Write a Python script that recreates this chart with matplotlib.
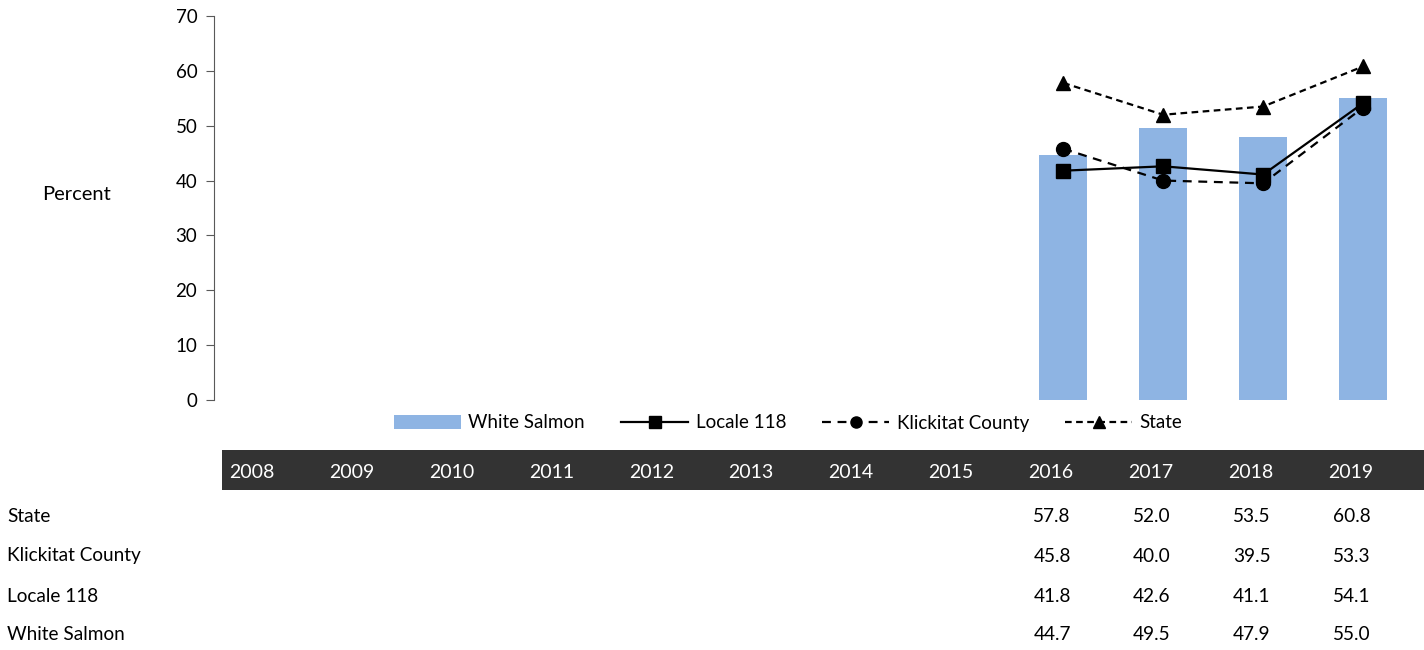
import matplotlib
matplotlib.use("Agg")
import matplotlib.pyplot as plt
import matplotlib.patches as patches
import matplotlib.transforms as mtransforms
from matplotlib.lines import Line2D
import numpy as np

plt.rcParams['font.family'] = ['Lato', 'DejaVu Sans']

years = ["2008", "2009", "2010", "2011", "2012", "2013", "2014", "2015",
         "2016", "2017", "2018", "2019"]
white_salmon = [None] * 8 + [44.7, 49.5, 47.9, 55.0]
locale_118 = [None] * 8 + [41.8, 42.6, 41.1, 54.1]
klickitat = [None] * 8 + [45.8, 40.0, 39.5, 53.3]
state = [None] * 8 + [57.8, 52.0, 53.5, 60.8]

W, H = 1424, 650
fig = plt.figure(figsize=(W / 100, H / 100), dpi=100)
ax = fig.add_axes([214 / W, (H - 400) / H, (1413 - 214) / W, 384 / H])
ax.set_facecolor("none")

x = np.arange(len(years))


def arr(v):
    return np.array([np.nan if a is None else a for a in v], dtype=float)


bar_color = "#8EB4E3"
ax.bar(x, np.nan_to_num(arr(white_salmon)), width=0.48, color=bar_color, zorder=1)
ax.plot(x, arr(locale_118), color="black", lw=1.6, marker="s", ms=10, zorder=3)
ax.plot(x, arr(klickitat), color="black", lw=1.6, ls=(0, (4, 3)), marker="o", ms=10, zorder=3)
ax.plot(x, arr(state), color="black", lw=1.6, ls=(0, (3, 2)), marker="^", ms=9.5, zorder=3)

ax.set_xlim(-0.5, len(years) - 0.5)
ax.set_ylim(0, 70)
ax.set_yticks(range(0, 71, 10))
ax.set_xticks([])
for s in ["top", "right", "bottom"]:
    ax.spines[s].set_visible(False)
ax.spines["left"].set_color("#595959")
ax.tick_params(axis="y", labelsize=13.5, color="#595959", length=6, pad=6)
fig.text(76 / W, 1 - 194 / H, "Percent", fontsize=14.5, ha="center", va="center")

# legend
handles = [
    patches.Patch(facecolor=bar_color, edgecolor="none"),
    Line2D([], [], color="black", lw=1.6, marker="s", ms=8),
    Line2D([], [], color="black", lw=1.6, ls=(0, (4, 3)), marker="o", ms=8),
    Line2D([], [], color="black", lw=1.6, ls=(0, (3, 2)), marker="^", ms=8),
]
labels = ["White Salmon", "Locale 118", "Klickitat County", "State"]
fig.legend(handles, labels, loc="center", bbox_to_anchor=(788 / W, 1 - 423 / H),
           ncol=4, frameon=False, fontsize=13.5, handlelength=3.6, handleheight=0.85,
           columnspacing=1.9, handletextpad=0.4)

# data table
fig.patches.append(patches.Rectangle((222 / W, 1 - 490 / H), (W - 222) / W, 40 / H,
                                     transform=fig.transFigure, facecolor="#333333",
                                     edgecolor="none", zorder=-1))
trans = mtransforms.blended_transform_factory(ax.transData, fig.transFigure)
for i, yr in enumerate(years):
    ax.text(i - 0.35, 1 - 472 / H, yr, transform=trans, color="white",
            fontsize=14, ha="left", va="center", clip_on=False)

rows = [("State", state), ("Klickitat County", klickitat),
        ("Locale 118", locale_118), ("White Salmon", white_salmon)]
row_y = [517, 556, 596, 635]
for (name, vals), ry in zip(rows, row_y):
    fig.text(7 / W, 1 - ry / H, name, fontsize=13.7, ha="left", va="center")
    for i, v in enumerate(vals):
        if v is not None:
            ax.text(i - 0.30, 1 - ry / H, f"{v:.1f}", transform=trans,
                    fontsize=13.7, ha="left", va="center", clip_on=False)

fig.savefig("out.png", dpi=100)
